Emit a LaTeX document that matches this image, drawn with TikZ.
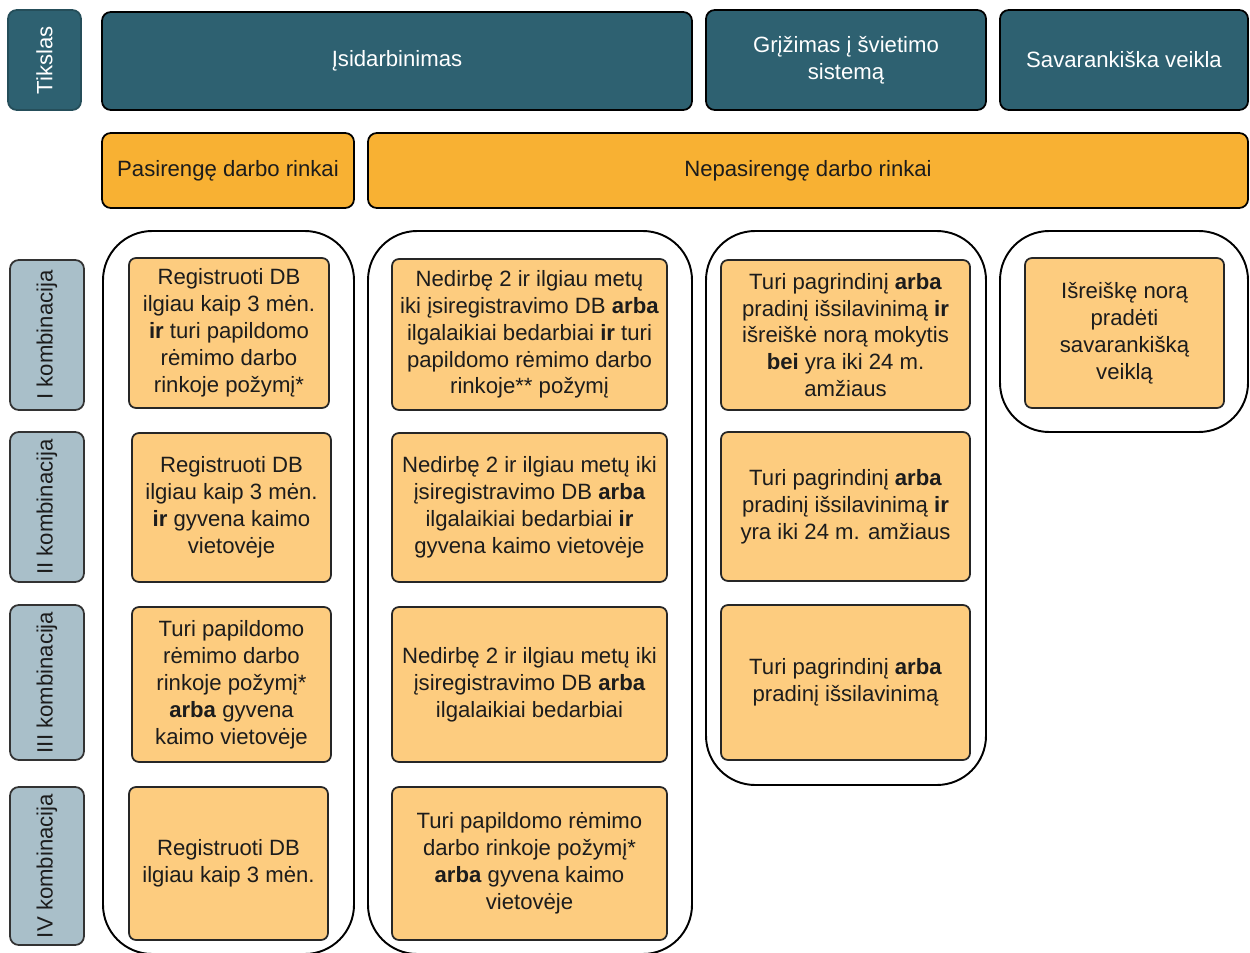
\documentclass[tikz,border=0pt]{standalone}
\usepackage{fontspec}
\setmainfont{Liberation Sans}
\usetikzlibrary{calc}

\definecolor{goalteal}{HTML}{2E6171}
\definecolor{headorange}{HTML}{F8B133}
\definecolor{cellorange}{HTML}{FDCC7F}
\definecolor{rowgrey}{HTML}{A9BFC9}
\definecolor{textdark}{HTML}{1C1C1C}

\tikzset{
  txt/.style={font=\fontsize{12.6}{15.3}\selectfont, align=center, inner sep=2pt},
  goalbox/.style={txt, draw=black, line width=1pt, rounded corners=5pt, fill=goalteal, text=white},
  tagbox/.style={txt, draw=goalteal!80!black, line width=1pt, rounded corners=5pt, fill=goalteal, text=white, rotate=90},
  groupbox/.style={txt, draw=black, line width=1pt, rounded corners=5pt, fill=headorange, text=textdark},
  frame/.style={draw=black, line width=1.1pt, rounded corners=28pt, fill=white},
  rowtag/.style={txt, draw=black!80, line width=1pt, rounded corners=5pt, fill=rowgrey, text=textdark, rotate=90},
  cell/.style={txt, draw=black!85, line width=1pt, rounded corners=4pt, fill=cellorange, text=textdark}
}

\begin{document}
\begin{tikzpicture}
            \useasboundingbox (0, 0) rectangle (25, -19.06);
            % goals
            \node[tagbox, minimum width=2cm, minimum height=1.46cm] (Goal) at (0.89, -1.2) {Tikslas};
            \node[goalbox, minimum width=11.8cm, minimum height=1.96cm] (Job) at (7.94, -1.22) {Įsidarbinimas};
            \node[goalbox, minimum width=5.6cm, minimum height=2cm] (School) at (16.92, -1.2) {Grįžimas į švietimo\\sistemą};
            \node[goalbox, minimum width=4.96cm, minimum height=2cm] (Self) at (22.48, -1.2) {Savarankiška veikla};
            \node[groupbox, minimum width=5.04cm, minimum height=1.5cm] (Ready) at (4.56, -3.41) {Pasirengę darbo rinkai};
            \node[groupbox, minimum width=17.6cm, minimum height=1.5cm] (NotReady) at (16.16, -3.41) {Nepasirengę darbo rinkai};
            % frames
            \node[frame, minimum width=5.02cm, minimum height=14.46cm] (Col1) at (4.57, -11.85) {};
            \node[frame, minimum width=6.48cm, minimum height=14.46cm] (Col2) at (10.6, -11.85) {};
            \node[frame, minimum width=5.6cm, minimum height=11.08cm] (Col3) at (16.92, -10.16) {};
            \node[frame, minimum width=4.96cm, minimum height=4.02cm] (Col4) at (22.48, -6.63) {};
            % combinations
            \node[rowtag, minimum width=3cm, minimum height=1.48cm] (RowI) at (0.94, -6.7) {I kombinacija};
            \node[rowtag, minimum width=3cm, minimum height=1.48cm] (RowII) at (0.94, -10.14) {II kombinacija};
            \node[rowtag, minimum width=3.1cm, minimum height=1.48cm] (RowIII) at (0.94, -13.65) {III kombinacija};
            \node[rowtag, minimum width=3.16cm, minimum height=1.48cm] (RowIV) at (0.94, -17.32) {IV kombinacija};
            % cells
            \node[cell, minimum width=4cm, minimum height=3cm] (A1) at (4.58, -6.66)
                {Registruoti DB\\ilgiau kaip 3 mėn.\\\textbf{ir} turi papildomo\\rėmimo darbo\\rinkoje požymį*};
            \node[cell, minimum width=3.98cm, minimum height=2.98cm] (A2) at (4.63, -10.15)
                {Registruoti DB\\ilgiau kaip 3 mėn.\\\textbf{ir} gyvena kaimo\\vietovėje};
            \node[cell, minimum width=3.98cm, minimum height=3.1cm] (A3) at (4.63, -13.69)
                {Turi papildomo\\rėmimo darbo\\rinkoje požymį*\\\textbf{arba} gyvena\\kaimo vietovėje};
            \node[cell, minimum width=3.98cm, minimum height=3.06cm] (A4) at (4.57, -17.27)
                {Registruoti DB\\ilgiau kaip 3 mėn.};
            \node[cell, minimum width=5.5cm, minimum height=3.02cm] (B1) at (10.59, -6.69)
                {Nedirbę 2 ir ilgiau metų\\iki įsiregistravimo DB \textbf{arba}\\ilgalaikiai bedarbiai \textbf{ir} turi\\papildomo rėmimo darbo\\rinkoje** požymį};
            \node[cell, minimum width=5.5cm, minimum height=2.98cm] (B2) at (10.59, -10.15)
                {Nedirbę 2 ir ilgiau metų iki\\įsiregistravimo DB \textbf{arba}\\ilgalaikiai bedarbiai \textbf{ir}\\gyvena kaimo vietovėje};
            \node[cell, minimum width=5.5cm, minimum height=3.1cm] (B3) at (10.59, -13.69)
                {Nedirbę 2 ir ilgiau metų iki\\įsiregistravimo DB \textbf{arba}\\ilgalaikiai bedarbiai};
            \node[cell, minimum width=5.5cm, minimum height=3.06cm] (B4) at (10.59, -17.27)
                {Turi papildomo rėmimo\\darbo rinkoje požymį*\\\textbf{arba} gyvena kaimo\\vietovėje};
            \node[cell, minimum width=4.98cm, minimum height=3cm] (C1) at (16.91, -6.7)
                {Turi pagrindinį \textbf{arba}\\pradinį išsilavinimą \textbf{ir}\\išreiškė norą mokytis\\\textbf{bei} yra iki 24 m.\\amžiaus};
            \node[cell, minimum width=4.98cm, minimum height=2.98cm] (C2) at (16.91, -10.13)
                {Turi pagrindinį \textbf{arba}\\pradinį išsilavinimą \textbf{ir}\\yra iki 24 m. amžiaus};
            \node[cell, minimum width=4.98cm, minimum height=3.1cm] (C3) at (16.91, -13.65)
                {Turi pagrindinį \textbf{arba}\\pradinį išsilavinimą};
            \node[cell, minimum width=3.98cm, minimum height=3cm] (D1) at (22.49, -6.66)
                {Išreiškę norą\\pradėti\\savarankišką\\veiklą};
        \end{tikzpicture}
\end{document}
